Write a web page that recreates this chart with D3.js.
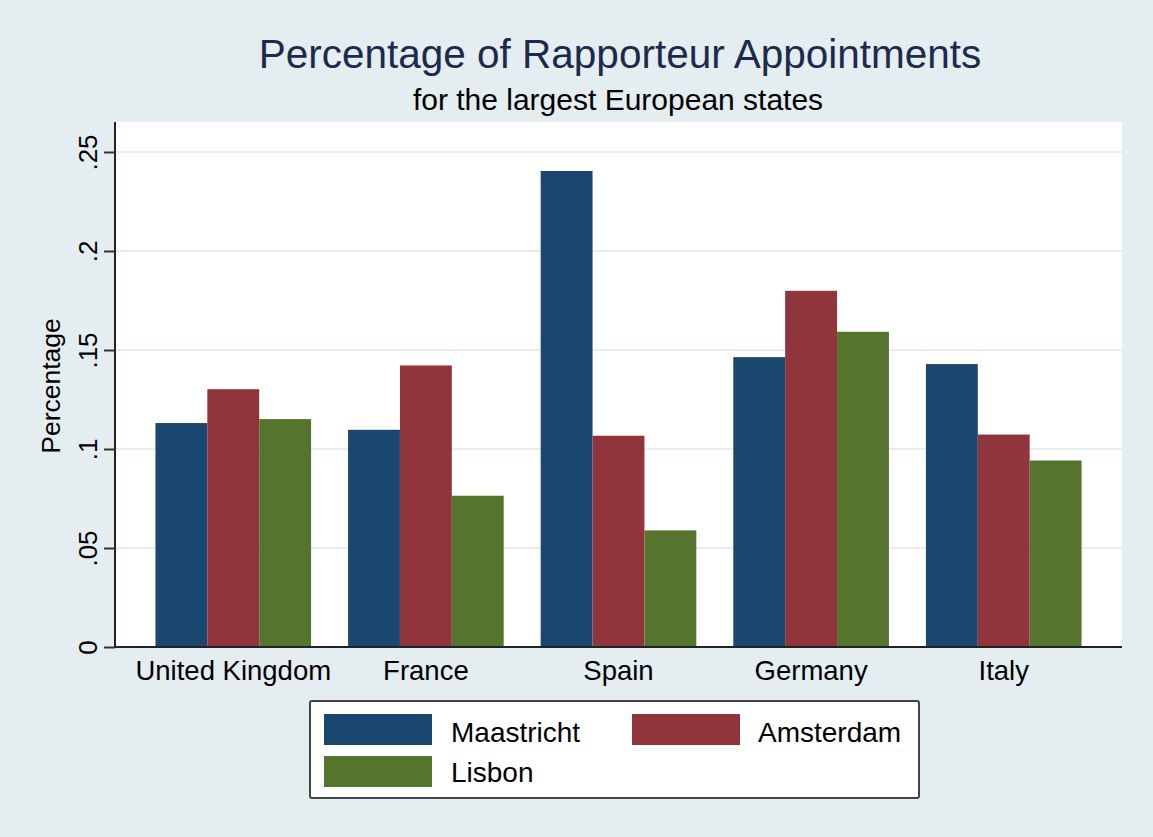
<!DOCTYPE html>
<html>
<head>
<meta charset="utf-8">
<script src="https://cdn.jsdelivr.net/npm/d3@7"></script>
<style>
  body { margin: 0; background: #e4edf0; }
  text { font-family: "Liberation Sans", Arial, Helvetica, sans-serif; }
</style>
</head>
<body>
<div id="chart"></div>
<script>
// data
var countries = ["United Kingdom", "France", "Spain", "Germany", "Italy"];
var treaties = ["Maastricht", "Amsterdam", "Lisbon"];
var maastricht = [0.1131, 0.1097, 0.2404, 0.1464, 0.1429];
var amsterdam  = [0.1302, 0.1422, 0.1067, 0.1799, 0.1073];
var lisbon     = [0.1151, 0.0764, 0.0589, 0.1592, 0.0942];
var yTicks = [0, 0.05, 0.1, 0.15, 0.2, 0.25];
var yTickLabels = ["0", ".05", ".1", ".15", ".2", ".25"];

var colors = ["#1a476f", "#90353b", "#55752f"];
var series = [maastricht, amsterdam, lisbon];

var width = 1153, height = 837;
var plot = {left: 115, right: 1122, top: 122, bottom: 647};

var svg = d3.select("#chart")
    .append("svg")
    .attr("width", width)
    .attr("height", height);

svg.append("rect")
    .attr("width", width)
    .attr("height", height)
    .attr("fill", "#e4edf0");

svg.append("rect")
    .attr("x", plot.left)
    .attr("y", plot.top)
    .attr("width", plot.right - plot.left)
    .attr("height", plot.bottom - plot.top)
    .attr("fill", "#ffffff");

var x0 = d3.scaleBand()
    .domain(countries)
    .range([plot.left, plot.right])
    .paddingInner(0.192)
    .paddingOuter(0.21);

var x1 = d3.scaleBand()
    .domain(treaties)
    .range([0, x0.bandwidth()]);

var y = d3.scaleLinear()
    .domain([0, 0.25])
    .range([plot.bottom, 152]);

// gridlines
svg.append("g")
    .selectAll("line")
    .data(yTicks.filter(d => d > 0))
    .enter()
    .append("line")
    .attr("x1", plot.left)
    .attr("x2", plot.right)
    .attr("y1", d => y(d))
    .attr("y2", d => y(d))
    .attr("stroke", "#e6eef2")
    .attr("stroke-width", 2);

// bars
var rows = [];
countries.forEach(function (c, i) {
    treaties.forEach(function (t, j) {
        rows.push({country: c, treaty: t, value: series[j][i], color: colors[j]});
    });
});

svg.append("g")
    .selectAll("rect")
    .data(rows)
    .enter()
    .append("rect")
    .attr("x", d => x0(d.country) + x1(d.treaty))
    .attr("width", x1.bandwidth())
    .attr("y", d => y(d.value))
    .attr("height", d => y(0) - y(d.value))
    .attr("fill", d => d.color);

// y axis
var yAxis = d3.axisLeft(y)
    .tickValues(yTicks)
    .tickSize(11)
    .tickFormat((d, i) => yTickLabels[i]);

var gy = svg.append("g")
    .attr("transform", "translate(" + plot.left + ",0)")
    .call(yAxis);

gy.select(".domain")
    .attr("d", "M0," + plot.top + "V" + plot.bottom)
    .attr("stroke", "#222")
    .attr("stroke-width", 2);
gy.selectAll(".tick line")
    .attr("stroke", "#333")
    .attr("stroke-width", 2);
gy.selectAll(".tick text")
    .attr("x", null)
    .attr("dy", null)
    .attr("transform", "translate(-18,0) rotate(-90)")
    .attr("text-anchor", "middle")
    .attr("fill", "#000")
    .style("font-size", "26px");

// x axis
var gx = svg.append("g")
    .attr("transform", "translate(0," + plot.bottom + ")")
    .call(d3.axisBottom(x0).tickSize(0));

gx.select(".domain")
    .attr("d", "M" + plot.left + ",0H" + plot.right)
    .attr("stroke", "#222")
    .attr("stroke-width", 2);
gx.selectAll(".tick text")
    .attr("y", 33)
    .attr("dy", null)
    .attr("fill", "#000")
    .style("font-size", "27.5px");

// axis title
svg.append("text")
    .attr("transform", "translate(60,386) rotate(-90)")
    .attr("text-anchor", "middle")
    .style("font-size", "26.5px")
    .text("Percentage");

// titles
svg.append("text")
    .attr("x", 620)
    .attr("y", 68)
    .attr("text-anchor", "middle")
    .attr("fill", "#1c2a4e")
    .style("font-size", "40.5px")
    .text("Percentage of Rapporteur Appointments");

svg.append("text")
    .attr("x", 618)
    .attr("y", 110)
    .attr("text-anchor", "middle")
    .style("font-size", "30px")
    .text("for the largest European states");

// legend
var legend = svg.append("g");
legend.append("rect")
    .attr("x", 310)
    .attr("y", 701)
    .attr("width", 609)
    .attr("height", 97)
    .attr("rx", 2)
    .attr("fill", "#ffffff")
    .attr("stroke", "#444")
    .attr("stroke-width", 2);

var legendPos = [
    {sx: 324, sy: 714, tx: 451, ty: 742},
    {sx: 632, sy: 714, tx: 758, ty: 742},
    {sx: 324, sy: 756, tx: 451, ty: 782}
];

var items = legend.selectAll("g.item")
    .data(treaties)
    .enter()
    .append("g")
    .attr("class", "item");

items.append("rect")
    .attr("x", (d, i) => legendPos[i].sx)
    .attr("y", (d, i) => legendPos[i].sy)
    .attr("width", 108)
    .attr("height", 31)
    .attr("fill", (d, i) => colors[i]);

items.append("text")
    .attr("x", (d, i) => legendPos[i].tx)
    .attr("y", (d, i) => legendPos[i].ty)
    .style("font-size", "28px")
    .text(d => d);
</script>
</body>
</html>
